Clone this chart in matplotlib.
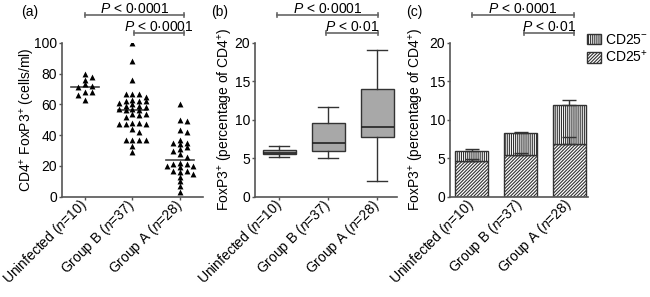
import numpy as np
import matplotlib
matplotlib.use("Agg")
import matplotlib.pyplot as plt
from matplotlib.patches import Patch

# ---- data ----
groups = ["Uninfected ($n$=10)", "Group B ($n$=37)", "Group A ($n$=28)"]

# (a) CD4+ FoxP3+ cells/ml, individual patients
uninfected_cells = [80, 78, 76, 73, 72, 71, 68, 68, 66, 63]
groupB_cells = [100, 88, 76, 67, 67, 67, 65, 63, 62, 62, 62, 61, 60, 59, 59,
                58, 57, 57, 56, 56, 54, 54, 53, 52, 48, 48, 47, 47, 47, 44,
                42, 37, 37, 37, 37, 33, 29]
groupA_cells = [60, 50, 49, 43, 42, 37, 35, 35, 34, 32, 31, 30, 28, 26,
                22, 21, 21, 20, 20, 19, 17, 17, 16, 15, 13, 10, 7, 3]

# (b) FoxP3+ % of CD4+, box plot summary
box_whislo = [5.2, 5.0, 2.1]
box_q1 = [5.5, 5.9, 7.7]
box_med = [5.7, 7.0, 9.0]
box_q3 = [6.1, 9.6, 14.0]
box_whishi = [6.6, 11.7, 19.0]

# (c) stacked bars, mean + SEM
cd25pos = [4.6, 5.4, 6.8]
cd25pos_err = [0.25, 0.3, 0.9]
cd25neg = [1.3, 2.85, 5.1]
total_err = [0.3, 0.2, 0.65]

plt.rcParams["font.family"] = ["Liberation Sans", "DejaVu Sans"]
plt.rcParams["font.size"] = 10
plt.rcParams["mathtext.fontset"] = "custom"
plt.rcParams["mathtext.rm"] = "Liberation Sans"
plt.rcParams["mathtext.it"] = "Liberation Sans:italic"
plt.rcParams["hatch.linewidth"] = 0.8
plt.rcParams["hatch.color"] = "#1a1a1a"

AXIS_COL = "#555555"
LINE_COL = "#333333"
HATCH_NEG = "|" * 8
HATCH_POS = "/" * 10


def swarm_offsets(vals, gap=3.0, step=0.14):
    # place points from the top down; each goes to the nearest free column
    vals = np.asarray(vals, dtype=float)
    order = np.argsort(-vals)
    cols = [0]
    for k in range(1, 6):
        cols += [k, -k]
    placed = {}
    offs = np.zeros(len(vals))
    for i in order:
        for c in cols:
            if all(abs(vals[i] - v) >= gap for v in placed.get(c, [])):
                placed.setdefault(c, []).append(vals[i])
                offs[i] = c * step
                break
    return offs


def style_axes(ax, yticks):
    for s in ("top", "right"):
        ax.spines[s].set_visible(False)
    for s in ("left", "bottom"):
        ax.spines[s].set_color(AXIS_COL)
        ax.spines[s].set_linewidth(1.2)
    ax.set_yticks(yticks)
    ax.set_ylim(yticks[0], yticks[-1])
    ax.tick_params(axis="y", length=2.5, width=1, color=AXIS_COL, pad=1)
    ax.tick_params(axis="x", length=2.5, width=1, color=AXIS_COL, pad=2)
    ax.set_xticks(range(len(groups)))
    ax.set_xticklabels(groups, rotation=45, ha="right", va="center",
                       rotation_mode="anchor")


def bracket(ax, x0, x1, y, text, tick=0.016):
    tr = ax.get_xaxis_transform()
    kw = dict(transform=tr, clip_on=False, color="#666666", lw=1.2)
    ax.plot([x0, x1], [y, y], **kw)
    for x in (x0, x1):
        ax.plot([x, x], [y - tick, y + tick], **kw)
    ax.text((x0 + x1) / 2, y + 0.012, text, transform=tr,
            ha="center", va="baseline")


fig = plt.figure(figsize=(6.5, 2.97), dpi=100)
ax_a = fig.add_axes([0.0949, 0.3377, 0.2178, 0.5185])
ax_b = fig.add_axes([0.3923, 0.3377, 0.2180, 0.5185])
ax_c = fig.add_axes([0.6923, 0.3377, 0.2128, 0.5185])

# ---- (a) scatter ----
style_axes(ax_a, [0, 20, 40, 60, 80, 100])
for i, vals in enumerate([uninfected_cells, groupB_cells, groupA_cells]):
    x = i + swarm_offsets(vals)
    ax_a.scatter(x, vals, marker="^", s=18, color="black", lw=0, zorder=3)
    m = np.median(vals)
    ax_a.plot([i - 0.3, i + 0.3], [m, m], color="#444444", lw=1.2, zorder=2)
ax_a.set_xlim(-0.49, 2.49)
ax_a.set_ylabel("CD4$^{+}$ FoxP3$^{+}$ (cells/ml)", va="center")
ax_a.yaxis.set_label_coords(-0.24, 0.5)
bracket(ax_a, 0, 2.08, 1.18, "$P$ < 0·0001")
bracket(ax_a, 1.03, 2.08, 1.063, "$P$ < 0·0001")

# ---- (b) box plot ----
style_axes(ax_b, [0, 5, 10, 15, 20])
stats = [dict(whislo=box_whislo[i], q1=box_q1[i], med=box_med[i],
              q3=box_q3[i], whishi=box_whishi[i], fliers=[])
         for i in range(len(groups))]
ax_b.bxp(stats, positions=[0, 1, 2], widths=0.67, capwidths=0.4,
         patch_artist=True, showfliers=False,
         boxprops=dict(facecolor="#a8a8a8", edgecolor=LINE_COL, lw=1),
         medianprops=dict(color="#222222", lw=1.2),
         whiskerprops=dict(color=LINE_COL, lw=1),
         capprops=dict(color=LINE_COL, lw=1))
ax_b.set_xlim(-0.496, 2.396)
ax_b.set_xticks(range(len(groups)))
ax_b.set_xticklabels(groups, rotation=45, ha="right", va="center",
                     rotation_mode="anchor")
ax_b.set_ylabel("FoxP3$^{+}$ (percentage of CD4$^{+}$)", va="center")
ax_b.yaxis.set_label_coords(-0.21, 0.5)
bracket(ax_b, -0.05, 2.02, 1.18, "$P$ < 0·0001")
bracket(ax_b, 0.96, 2.02, 1.063, "$P$ < 0·01")

# ---- (c) stacked bars ----
style_axes(ax_c, [0, 5, 10, 15, 20])
xs = np.arange(len(groups))
ax_c.bar(xs, cd25pos, width=0.68, color="white", edgecolor=LINE_COL,
         hatch=HATCH_POS, lw=1, zorder=2)
ax_c.bar(xs, cd25neg, bottom=cd25pos, width=0.68, color="white",
         edgecolor=LINE_COL, hatch=HATCH_NEG, lw=1, zorder=2)
top = np.array(cd25pos) + np.array(cd25neg)
ax_c.errorbar(xs, cd25pos, yerr=[np.zeros(3), cd25pos_err], fmt="none",
              ecolor=LINE_COL, elinewidth=1, capsize=5, zorder=3)
ax_c.errorbar(xs, top, yerr=[np.zeros(3), total_err], fmt="none",
              ecolor=LINE_COL, elinewidth=1, capsize=5, zorder=3)
ax_c.set_xlim(-0.444, 2.385)
ax_c.tick_params(axis="x", length=0, pad=4)
ax_c.set_ylabel("FoxP3$^{+}$ (percentage of CD4$^{+}$)", va="center")
ax_c.yaxis.set_label_coords(-0.24, 0.5)
bracket(ax_c, 0, 2.09, 1.18, "$P$ < 0·0001")
bracket(ax_c, 1.07, 2.09, 1.063, "$P$ < 0·01")

fig.legend(handles=[Patch(facecolor="white", edgecolor=LINE_COL,
                          hatch=HATCH_NEG, label="CD25$^{-}$"),
                    Patch(facecolor="white", edgecolor=LINE_COL,
                          hatch=HATCH_POS, label="CD25$^{+}$")],
           loc="upper left", bbox_to_anchor=(587 / 650, 1 - 33 / 297),
           frameon=False, handlelength=1.0, handleheight=0.8,
           handletextpad=0.3, labelspacing=0.15, borderpad=0,
           borderaxespad=0)

for lab, xpos in (("(a)", 30), ("(b)", 220), ("(c)", 414)):
    fig.text(xpos / 650, 1 - 12 / 297, lab, ha="center", va="center")

fig.savefig("out.png", dpi=100)
